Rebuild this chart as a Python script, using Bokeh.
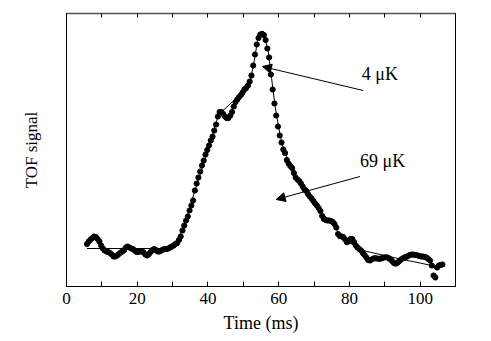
from bokeh.plotting import figure
from bokeh.models import LinearAxis, FixedTicker, Arrow, NormalHead, Label, Range1d
from bokeh.embed import file_html
from bokeh.resources import INLINE

# --- data (time in ms, TOF signal in arbitrary units) ---
T0 = 5.8      # first sample time (ms)
DT = 0.5      # sampling interval (ms)
signal = [
    42.5, 45, 47, 48.5, 50, 49.5, 47.5, 45, 41, 38,
    36, 35, 34.5, 33.5, 32, 30, 30, 31, 32.5, 34,
    35, 36.5, 39, 40, 39, 38, 37.5, 36, 34.5, 34.5,
    35, 35.5, 34, 32, 31, 32.5, 34.5, 36.5, 37.5, 36.5,
    35, 35, 36, 37, 37.5, 37.5, 38, 39, 40, 41,
    42.5, 43.5, 46.5, 50, 56, 61, 66, 70, 76, 81,
    86, 96, 103, 109, 115, 121, 126, 132, 136.5, 141,
    146, 150, 156, 162, 170, 174.5, 174.5, 172.5, 170, 168.5,
    168.5, 171, 174.5, 180, 184.5, 187, 189.5, 191.5, 194, 197,
    198.5, 201, 205, 211, 221, 232, 242, 248.5, 252, 252.7,
    251.5, 246.5, 238, 229, 212, 197, 183, 171, 160, 151,
    144, 137, 133.5, 126.5, 123, 120.5, 118.5, 113.5, 109, 107,
    105.5, 103, 100, 97, 95.5, 92.5, 90, 88, 85.5, 83,
    81, 78.5, 75.5, 70.5, 67.5, 66.5, 66, 66, 65.5, 64.5,
    62.5, 59, 52.5, 50.5, 50, 49.3, 47, 44.3, 45.5, 47.5,
    47.5, 44.5, 41, 39, 37.5, 36, 33.5, 31.5, 29, 26.5,
    26, 27, 28, 28.3, 28, 27.8, 27.8, 28.5, 29, 29.2,
    29, 28, 26.5, 24.5, 23, 23, 24.5, 26, 27.5, 28.5,
    29.3, 30, 31, 31.7, 32, 31.8, 31.5, 31, 30.5, 30,
    30, 29.5, 29, 27.5, 26, 21, 11, 9, 19, 21,
    21.5, 22,
]
time_ms = [round(T0 + DT * i, 2) for i in range(len(signal))]

fit_t = [5.8, 28.3, 31, 32.5, 34, 36.3, 40, 42.5, 43, 47.8, 50.5, 52, 53, 54, 55,
         56, 57, 58, 59, 60, 61, 62.5, 65, 67.5, 70, 72.5, 75, 77.5, 80, 82.5,
         85, 90, 95, 100, 104.5]
fit_v = [38, 38, 45, 55, 68, 96, 136, 166, 172, 187.5, 197, 206, 224, 245, 252.5,
         250, 236, 208, 180, 159, 142, 128, 110, 97, 85, 73, 62, 52, 44, 38,
         35, 31, 27, 23.5, 20]

x_ticks = [0, 20, 40, 60, 80, 100]
x_minor = [10, 30, 50, 70, 90, 110]

FONT = "Liberation Serif"

p = figure(width=475, height=338, output_backend="svg", toolbar_location=None,
           x_range=Range1d(0, 110), y_range=Range1d(0, 273),
           min_border_left=66, min_border_right=20, min_border_top=13,
           min_border_bottom=52)
p.grid.visible = False
p.outline_line_color = "black"
p.outline_line_width = 1
p.background_fill_color = "white"
p.border_fill_color = "white"

# bottom axis
xa = p.xaxis[0]
xa.ticker = FixedTicker(ticks=x_ticks, minor_ticks=x_minor)
xa.major_tick_in = 5
xa.major_tick_out = 0
xa.minor_tick_in = 5
xa.minor_tick_out = 0
xa.axis_line_color = "black"
xa.major_label_text_font = FONT
xa.major_label_text_font_size = "17px"
xa.major_label_text_color = "black"
xa.major_label_standoff = 6
xa.axis_label = "Time (ms)"
xa.axis_label_text_font = FONT
xa.axis_label_text_font_size = "18px"
xa.axis_label_text_font_style = "normal"
xa.axis_label_text_color = "black"
xa.axis_label_standoff = 6

# left axis
ya = p.yaxis[0]
ya.ticker = FixedTicker(ticks=[])
ya.major_tick_in = 0
ya.major_tick_out = 0
ya.minor_tick_in = 0
ya.minor_tick_out = 0
ya.axis_label = "TOF signal"
ya.axis_label_text_font = FONT
ya.axis_label_text_font_size = "17px"
ya.axis_label_text_font_style = "normal"
ya.axis_label_text_color = "black"
ya.axis_label_standoff = 26

# top axis with small inward ticks, no labels
top = LinearAxis(ticker=FixedTicker(ticks=[], minor_ticks=x_ticks + x_minor))
top.major_tick_in = 0
top.major_tick_out = 0
top.minor_tick_in = 4
top.minor_tick_out = 0
top.axis_line_color = "#555555"
top.axis_line_width = 1.5
p.add_layout(top, "above")

# fit and data
p.line(fit_t, fit_v, line_color="black", line_width=1)
p.scatter(time_ms, signal, size=5.2, fill_color="black", line_color="black")

# annotations
p.add_layout(Arrow(end=NormalHead(size=9, fill_color="black", line_color="black"),
                   x_start=83.9, y_start=196, x_end=55.4, y_end=220,
                   line_color="black", line_width=1))
p.add_layout(Arrow(end=NormalHead(size=9, fill_color="black", line_color="black"),
                   x_start=83.0, y_start=110, x_end=59.3, y_end=87,
                   line_color="black", line_width=1))
p.add_layout(Label(x=83.5, y=213, text="4 μK", text_font=FONT,
                   text_font_size="18px", text_color="black",
                   text_baseline="alphabetic"))
p.add_layout(Label(x=83.0, y=126, text="69 μK", text_font=FONT,
                   text_font_size="18px", text_color="black",
                   text_baseline="alphabetic"))

open("out.html", "w").write(file_html(p, INLINE))
